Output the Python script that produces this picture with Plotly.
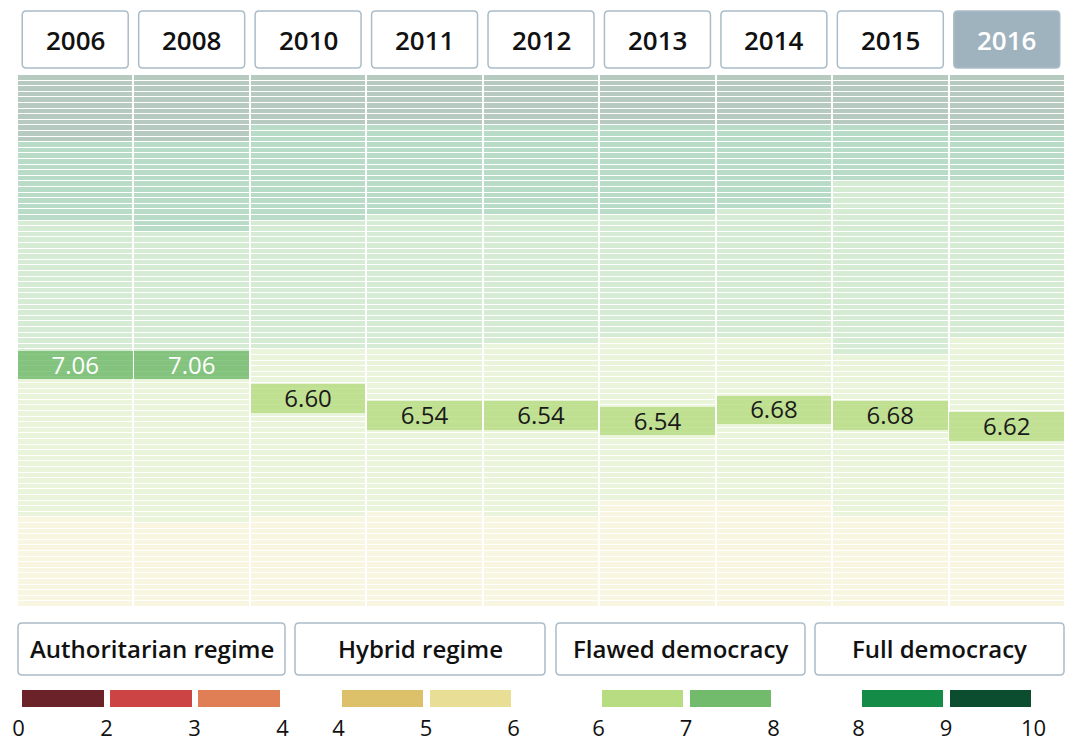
import plotly.graph_objects as go

# ---------------- data ----------------
years = ["2006", "2008", "2010", "2011", "2012", "2013", "2014", "2015", "2016"]
selected_year = "2016"

# number of visible country rows per score band, top to bottom
rows_9_10 = [12, 12, 9, 9, 9, 9, 9, 9, 10]
rows_8_9 = [14, 16, 17, 16, 16, 16, 15, 10, 9]
rows_7_8 = [28, 26, 23, 24, 23, 22, 23, 31, 28]
rows_6_7 = [25, 26, 30, 29, 31, 29, 29, 29, 29]
rows_5_6 = [16, 15, 16, 17, 16, 19, 19, 16, 19]

# highlighted country: score and row (rank position) per year
hl_score = [7.06, 7.06, 6.60, 6.54, 6.54, 6.54, 6.68, 6.68, 6.62]
hl_row = [51, 51, 57, 60, 60, 61, 59, 60, 62]

band_edges = [0, 2, 3, 4, 5, 6, 7, 8, 9, 10]
band_colors = ["#6b2229", "#cc4444", "#e07f55", "#dcc06a", "#e8de96",
               "#b8dc82", "#72bb6c", "#148c48", "#0b4d2e"]
groups = [("Authoritarian regime", [0, 1, 2]),
          ("Hybrid regime", [3, 4]),
          ("Flawed democracy", [5, 6]),
          ("Full democracy", [7, 8])]

# ---------------- helpers ----------------
W, H = 1080, 748
FONT = "Open Sans"


def fade(hexc, a=0.3):
    r, g, b = (int(hexc[i:i + 2], 16) for i in (1, 3, 5))
    f = lambda c: round(255 - a * (255 - c))
    return "#%02x%02x%02x" % (f(r), f(g), f(b))


def band_of(v):
    idx = 0
    for i in range(len(band_edges) - 1):
        if v >= band_edges[i]:
            idx = i
    return idx


def rrect(x0, x1, y0, y1, rx, ry):
    return (f"M{x0+rx},{y0} L{x1-rx},{y0} Q{x1},{y0} {x1},{y0+ry} "
            f"L{x1},{y1-ry} Q{x1},{y1} {x1-rx},{y1} L{x0+rx},{y1} "
            f"Q{x0},{y1} {x0},{y1-ry} L{x0},{y0+ry} Q{x0},{y0} {x0+rx},{y0} Z")


def py(px):  # pixel from top -> paper y
    return 1 - px / H


def pxx(px):
    return px / W


# ---------------- heatmap of stripes ----------------
cols = []
for j in range(len(years)):
    col = ([8] * rows_9_10[j] + [7] * rows_8_9[j] + [6] * rows_7_8[j]
           + [5] * rows_6_7[j] + [4] * rows_5_6[j])
    cols.append(col)
nrows = max(len(c) for c in cols)
z = [[cols[j][r] if r < len(cols[j]) else None for j in range(len(years))]
     for r in range(nrows)]

faded = [fade(c) for c in band_colors]
cs = []
n = len(faded)
for i, c in enumerate(faded):
    cs.append([i / n, c])
    cs.append([(i + 1) / n, c])

fig = go.Figure()
fig.add_trace(go.Heatmap(
    z=z, x=list(range(len(years))), y=list(range(nrows)),
    colorscale=cs, zmin=-0.5, zmax=n - 0.5, showscale=False,
    xgap=2, ygap=1, hoverinfo="skip"))

# highlighted country bars
fig.add_trace(go.Bar(
    x=list(range(len(years))), y=[5.1] * len(years),
    base=[r - 2.25 for r in hl_row], width=0.985,
    marker=dict(color=[band_colors[band_of(v)] for v in hl_score], line=dict(width=0)),
    opacity=0.82, hoverinfo="skip", showlegend=False))
fig.add_trace(go.Scatter(
    x=list(range(len(years))), y=[r + 0.75 for r in hl_row],
    mode="text", text=[f"{v:.2f}" for v in hl_score],
    textfont=dict(family=FONT, size=24,
                  color=["white" if v >= 7 else "#1a1a1a" for v in hl_score]),
    hoverinfo="skip", showlegend=False))

layout = dict(
    template="none",
    width=W, height=H, margin=dict(l=0, r=0, t=0, b=0, pad=0, autoexpand=False),
    paper_bgcolor="white", plot_bgcolor="white", showlegend=False,
    font=dict(family=FONT, color="#111111"),
    xaxis=dict(domain=[pxx(17), pxx(1065)], range=[-0.5, len(years) - 0.5],
               visible=False, fixedrange=True, automargin=False),
    yaxis=dict(domain=[py(607), py(75)], range=[nrows - 0.5, -0.5],
               visible=False, fixedrange=True, automargin=False),
    bargap=0,
)

# ---------------- legend colour bars ----------------
group_domains = [(18.5, 282.5), (338.5, 513.5), (598.5, 773.5), (858.5, 1033.5)]
for k, ((name, bands), (d0, d1)) in enumerate(zip(groups, group_domains), start=2):
    nb = len(bands)
    fig.add_trace(go.Bar(
        x=list(range(nb)), y=[1] * nb, width=0.921,
        marker=dict(color=[band_colors[b] for b in bands], line=dict(width=0)),
        xaxis=f"x{k}", yaxis=f"y{k}", hoverinfo="skip", showlegend=False))
    edges = [band_edges[bands[0]]] + [band_edges[b + 1] for b in bands]
    layout[f"xaxis{k}"] = dict(
        domain=[pxx(d0), pxx(d1)], range=[-0.5, nb - 0.5], anchor=f"y{k}",
        tickvals=[i - 0.5 for i in range(nb + 1)], ticktext=[str(e) for e in edges],
        showgrid=False, zeroline=False, showline=False, ticks="",
        tickfont=dict(family=FONT, size=22, color="#111111"),
        ticklabelstandoff=6, fixedrange=True, automargin=False)
    layout[f"yaxis{k}"] = dict(domain=[py(707), py(690)], range=[0, 1],
                               visible=False, anchor=f"x{k}", fixedrange=True,
                               automargin=False)

fig.update_layout(**layout)

# ---------------- year buttons ----------------
shapes = []
annotations = []
half = 0.455
rx_units = 4 / ((1065 - 17) / len(years))
for i, yr in enumerate(years):
    sel = yr == selected_year
    shapes.append(dict(
        type="path", xref="x", yref="paper",
        path=rrect(i - half, i + half, py(68), py(11), rx_units, 4 / H),
        fillcolor="#9fb3be" if sel else "white",
        line=dict(color="#aabcc8", width=1.5), layer="above"))
    annotations.append(dict(
        x=i, y=py(40), xref="x", yref="paper", text=yr, showarrow=False,
        xanchor="center", yanchor="middle",
        font=dict(family=FONT, size=26, weight=600,
                  color="white" if sel else "#111111")))

# ---------------- category boxes ----------------
box_x = [(18, 285), (295, 545), (556, 805), (815, 1064)]
for (name, _), (x0, x1) in zip(groups, box_x):
    shapes.append(dict(
        type="path", xref="paper", yref="paper",
        path=rrect(pxx(x0), pxx(x1), py(675), py(623), 4 / W, 4 / H),
        fillcolor="white", line=dict(color="#aabcc8", width=1.5)))
    annotations.append(dict(
        x=pxx((x0 + x1) / 2), y=py(648), xref="paper", yref="paper",
        text=name, showarrow=False, xanchor="center", yanchor="middle",
        font=dict(family=FONT, size=24, weight=600, color="#111111")))

fig.update_layout(shapes=shapes, annotations=annotations)

fig.write_html(
    "out.html",
    config={"displayModeBar": False},
    post_script="document.body.style.margin='0px';document.body.style.overflow='hidden';")
